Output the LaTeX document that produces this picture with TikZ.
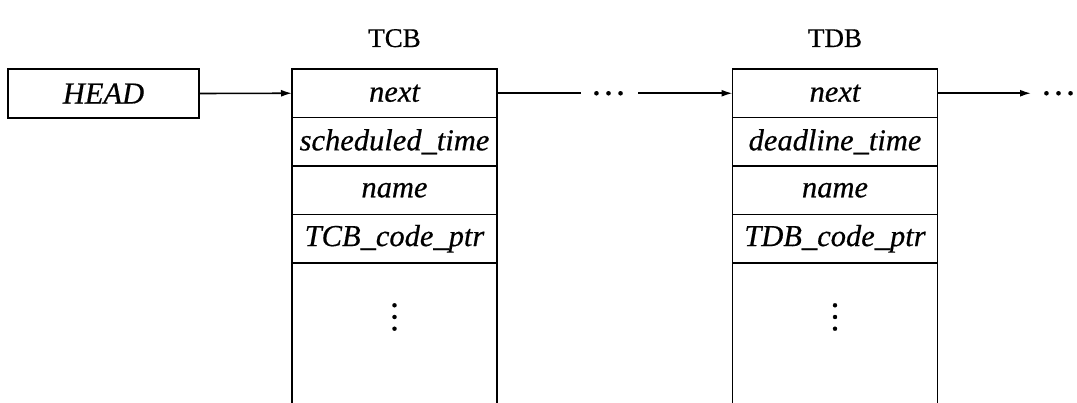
\documentclass[tikz,border=0pt]{standalone}
\usepackage{fontspec}
\setmainfont{Liberation Serif}[FakeBold=0.5, ItalicFeatures={FakeBold=0.5}]
\usetikzlibrary{arrows.meta}
\begin{document}
\begin{tikzpicture}[x=1pt,y=-1pt,
  every node/.style={inner sep=0pt, outer sep=0pt},
  field/.style={draw, line width=1.7pt, minimum width=205pt, minimum height=48.5pt,
    font=\fontsize{30.5}{33}\selectfont\itshape},
  headbox/.style={draw, line width=1.7pt, minimum width=191pt, minimum height=49pt,
    font=\fontsize{30.5}{33}\selectfont\itshape},
  title/.style={font=\fontsize{27}{30}\selectfont, anchor=base},
  link/.style={line width=1.6pt},
  linkarrow/.style={line width=1.6pt, -{Latex[length=11pt,width=7pt]}},
  hdots/.style={font=\fontsize{36}{36}\selectfont},
  vdotsnode/.style={font=\fontsize{35}{35}\selectfont, rotate=90},
  side/.style={line width=1.7pt}
]
\useasboundingbox (0,0) rectangle (1077,403);

% HEAD
\node[headbox] (head) at (103.5,93.5) {HEAD};

% TCB
\node[title] (tcbt) at (394.5,47) {TCB};
\node[field] (tcb1) at (394.5,93.25) {next};
\node[field, anchor=north] (tcb2) at (tcb1.south) {scheduled\_time};
\node[field, anchor=north] (tcb3) at (tcb2.south) {name};
\node[field, anchor=north] (tcb4) at (tcb3.south) {TCB\_code\_ptr};
\coordinate (tcbbl) at (tcb4.south west |- 0,403);
\coordinate (tcbbr) at (tcb4.south east |- 0,403);
\draw[side] (tcb4.south west) -- (tcbbl);
\draw[side] (tcb4.south east) -- (tcbbr);
\node[vdotsnode] (tcbdots) at (394.5,317) {…};

% TDB
\node[title] (tdbt) at (835,47) {TDB};
\node[field] (tdb1) at (835,93.25) {next};
\node[field, anchor=north] (tdb2) at (tdb1.south) {deadline\_time};
\node[field, anchor=north] (tdb3) at (tdb2.south) {name};
\node[field, anchor=north] (tdb4) at (tdb3.south) {TDB\_code\_ptr};
\coordinate (tdbbl) at (tdb4.south west |- 0,403);
\coordinate (tdbbr) at (tdb4.south east |- 0,403);
\draw[side] (tdb4.south west) -- (tdbbl);
\draw[side] (tdb4.south east) -- (tdbbr);
\node[vdotsnode] (tdbdots) at (835,317) {…};

% connectors
\draw[linkarrow] (head.east) -- (tcb1.west);

\coordinate (m1) at (581,93.25);
\node[hdots] (mdots) at (608.5,93.25) {…};
\coordinate (m2) at (638,93.25);
\draw[link] (tcb1.east) -- (m1);
\draw[linkarrow] (m2) -- (tdb1.west);

\coordinate (e1) at (1031,93.25);
\node[hdots] (edots) at (1058.5,93.25) {…};
\draw[linkarrow] (tdb1.east) -- (e1);
\end{tikzpicture}
\end{document}
